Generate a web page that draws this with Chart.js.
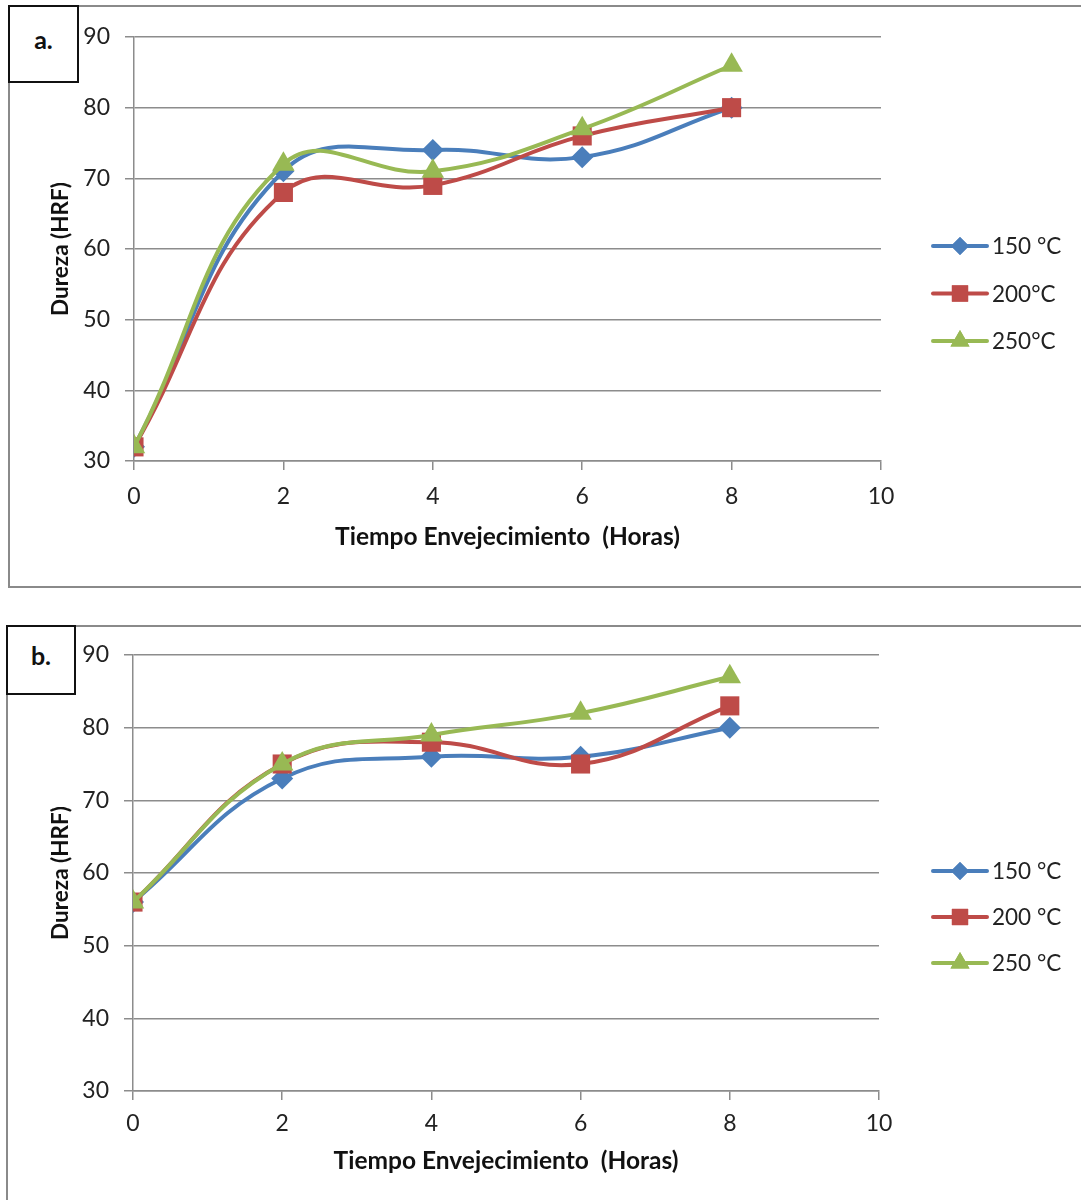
<!DOCTYPE html>
<html>
<head>
<meta charset="utf-8">
<script src="https://cdn.jsdelivr.net/npm/chart.js@4.4.1/dist/chart.umd.min.js"></script>
<style>
  html, body { margin: 0; padding: 0; background: #fff; overflow: hidden; }
  body { width: 1081px; height: 1200px; position: relative; font-family: Lato, sans-serif; }
  .panel { position: absolute; border: 2px solid #8a8a8a; box-sizing: border-box; }
  .tag { position: absolute; border: 2px solid #111; box-sizing: border-box; background: #fff;
         font: bold 25px Lato, sans-serif; color: #111; display: flex; align-items: center; justify-content: center; z-index: 2; }
  canvas { position: absolute; left: 0; z-index: 1; }
</style>
</head>
<body>
<div class="panel" style="left:8px; top:5px; width:1090px; height:583px;"></div>
<div class="tag" style="left:8px; top:5px; width:71px; height:78px; padding-bottom:10px;">a.</div>
<canvas id="chartA" width="1081" height="600" style="top:0;"></canvas>

<div class="panel" style="left:6px; top:625px; width:1090px; height:600px;"></div>
<div class="tag" style="left:6px; top:625px; width:70px; height:70px; padding-bottom:10px;">b.</div>
<canvas id="chartB" width="1081" height="600" style="top:600px;"></canvas>

<script>
// Tiempo de envejecimiento (horas)
const horas = [0, 2, 4, 6, 8];

// panel a
const a150 = [32, 71, 74, 73, 80];
const a200 = [32, 68, 69, 76, 80];
const a250 = [32, 72, 71, 77, 86];
const legendA = ['150 °C', '200°C', '250°C'];

// panel b
const b150 = [56, 73, 76, 76, 80];
const b200 = [56, 75, 78, 75, 83];
const b250 = [56, 75, 79, 82, 87];
const legendB = ['150 °C', '200 °C', '250 °C'];

const xMin = 0, xMax = 10, xStep = 2;
const yMin = 30, yMax = 90, yStep = 10;

const colors = ['#4a7ebb', '#be4b48', '#98b954'];
const markers = ['rectRot', 'rect', 'triangle'];
const markerSize = [11, 13.5, 13];
const gridColor = '#8c8c8c';

function toPoints(vals) {
    return horas.map((h, i) => ({ x: h, y: vals[i] }));
}

// Excel style legend: line segment with marker, text to the right
const sideLegend = {
    id: 'sideLegend',
    afterDraw(chart, args, opts) {
        const ctx = chart.ctx;
        ctx.save();
        chart.data.datasets.forEach((ds, i) => {
            const y = opts.top + i * opts.gap;
            ctx.strokeStyle = ds.borderColor;
            ctx.lineWidth = 4;
            ctx.lineCap = 'round';
            ctx.beginPath();
            ctx.moveTo(opts.left, y);
            ctx.lineTo(opts.left + 54, y);
            ctx.stroke();
            ctx.fillStyle = ds.borderColor;
            Chart.helpers.drawPoint(ctx, {
                pointStyle: ds.pointStyle,
                radius: ds.pointRadius - 2,
                rotation: 0,
                borderWidth: 0
            }, opts.left + 27, y);
            ctx.fill();
            ctx.fillStyle = '#222';
            ctx.font = '22.5px Lato, sans-serif';
            ctx.textBaseline = 'middle';
            ctx.textAlign = 'left';
            ctx.fillText(ds.label, opts.left + 59, y + 1);
        });
        ctx.restore();
    }
};

function makeChart(id, series, labels, g) {
    const datasets = series.map((vals, i) => ({
        label: labels[i],
        data: toPoints(vals),
        showLine: true,
        tension: 0.42,
        borderColor: colors[i],
        backgroundColor: colors[i],
        borderWidth: 4,
        pointStyle: markers[i],
        pointRadius: markerSize[i],
        pointBorderWidth: 0,
        order: series.length - i
    }));

    return new Chart(document.getElementById(id), {
        type: 'scatter',
        data: { datasets },
        options: {
            responsive: false,
            animation: false,
            devicePixelRatio: 1,
            layout: { padding: { left: g.left, top: g.top, right: 1081 - g.right, bottom: g.padBottom } },
            plugins: {
                legend: { display: false },
                tooltip: { enabled: false },
                sideLegend: g.legend
            },
            scales: {
                x: {
                    type: 'linear',
                    min: xMin, max: xMax,
                    ticks: { stepSize: xStep, padding: g.xTickPad, color: '#222', font: { family: 'Lato', size: 23 } },
                    grid: { drawOnChartArea: false, color: gridColor, tickLength: 9, lineWidth: 1.5 },
                    border: { color: gridColor, width: 1.5 },
                    title: {
                        display: true, text: 'Tiempo Envejecimiento  (Horas)', color: '#111',
                        font: { family: 'Lato', size: 24.5, weight: 'bold' },
                        padding: { top: 0, bottom: g.xTitlePad }
                    },
                    afterFit(s) { s.height = 100; }
                },
                y: {
                    min: yMin, max: yMax,
                    ticks: { stepSize: yStep, padding: 15, color: '#222', font: { family: 'Lato', size: 23 } },
                    grid: { color: gridColor, tickLength: 9, lineWidth: 1.5 },
                    border: { color: gridColor, width: 1.5 },
                    title: {
                        display: true, text: 'Dureza (HRF)', color: '#111',
                        font: { family: 'Lato', size: 22.5, weight: 'bold' },
                        padding: { top: 7, bottom: 0 }
                    },
                    afterFit(s) { s.width = g.yWidth; }
                }
            }
        },
        plugins: [sideLegend]
    });
}

makeChart('chartA', [a150, a200, a250], legendA, {
    left: 40, yWidth: 94, top: 37, right: 881, padBottom: 39,
    xTickPad: 13, xTitlePad: 9,
    legend: { left: 933, top: 246, gap: 47.5 }
});

makeChart('chartB', [b150, b200, b250], legendB, {
    left: 40, yWidth: 93, top: 55, right: 879, padBottom: 9,
    xTickPad: 10, xTitlePad: 15,
    legend: { left: 933, top: 271, gap: 46 }
});
</script>
</body>
</html>
